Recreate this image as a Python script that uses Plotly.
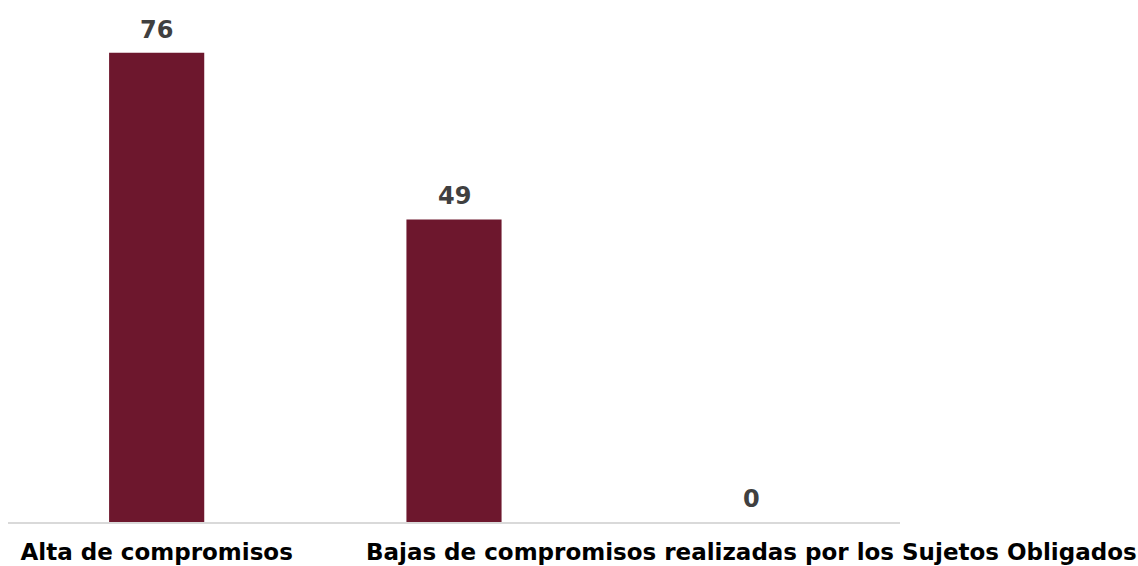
import plotly.graph_objects as go

categories = ["Alta de compromisos", "Bajas de compromisos", "Bajas de compromisos realizadas por los Sujetos Obligados"]
values = [76, 49, 0]
tick_labels = ["Alta de compromisos", "", "Bajas de compromisos realizadas por los Sujetos Obligados"]

fig = go.Figure()
fig.add_trace(go.Bar(
    x=categories, y=values,
    marker=dict(color="#6D172D", line=dict(width=0)),
    width=0.32,
    hoverinfo="x+y",
))
for c, v in zip(categories, values):
    fig.add_annotation(
        x=c, y=v, text=str(v), showarrow=False,
        yanchor="bottom", yshift=7,
        font=dict(family="DejaVu Sans", size=24, color="#404040", weight="bold"),
    )
fig.update_layout(
    width=1138, height=566,
    margin=dict(l=8, r=238, t=28, b=44),
    plot_bgcolor="white", paper_bgcolor="white",
    showlegend=False,
    xaxis=dict(
        tickmode="array", tickvals=categories, ticktext=tick_labels,
        showline=True, linecolor="#D9D9D9", linewidth=2,
        showgrid=False, ticks="", automargin=False,
        ticklabelstandoff=8,
        tickfont=dict(family="DejaVu Sans", size=23, color="#000000", weight="bold"),
    ),
    yaxis=dict(range=[0, 80], visible=False, showgrid=False, zeroline=False),
)
fig.write_html(
    "out.html",
    config={"displayModeBar": False},
    post_script="document.body.style.margin='0';document.body.style.overflow='hidden';",
)
